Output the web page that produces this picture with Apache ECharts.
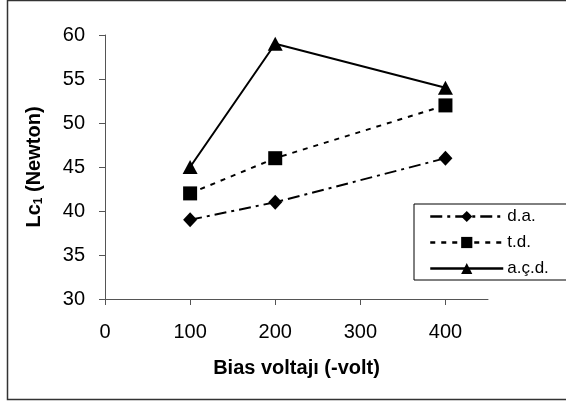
<!DOCTYPE html>
<html>
<head>
<meta charset="utf-8">
<script src="https://cdn.jsdelivr.net/npm/echarts@6/dist/echarts.min.js"></script>
<style>
html,body{margin:0;padding:0;background:#fff;}
#c{width:566px;height:402px;}
</style>
</head>
<body>
<div id="c"></div>
<script>
const xValues = [100, 200, 400];
const seriesNames = ['d.a.', 't.d.', 'a.ç.d.'];
const daValues = [39, 41, 46];
const tdValues = [42, 46, 52];
const acdValues = [45, 59, 54];
const xTicks = [0, 100, 200, 300, 400];
const yTicks = [30, 35, 40, 45, 50, 55, 60];

const FONT = '"Liberation Sans", Arial, sans-serif';
const pairs = v => xValues.map((x, i) => [x, v[i]]);

const chart = echarts.init(document.getElementById('c'), null, {renderer: 'canvas'});
chart.setOption({
  animation: false,
  backgroundColor: '#fff',
  textStyle: {fontFamily: FONT},
  graphic: [{
    type: 'rect', z: -1, silent: true,
    shape: {x: 7.5, y: 0.5, width: 600, height: 399},
    style: {fill: 'none', stroke: '#333', lineWidth: 1.5}
  }],
  grid: {left: 105, right: 78, top: 35, bottom: 103, containLabel: false},
  xAxis: {
    type: 'value', min: 0, max: 450, interval: 100,
    name: 'Bias voltajı (-volt)', nameLocation: 'middle', nameGap: 59,
    nameTextStyle: {fontFamily: FONT, fontSize: 20, fontWeight: 'bold', color: '#000'},
    axisLine: {show: true, lineStyle: {color: '#555', width: 1}},
    axisTick: {show: true, length: 6, inside: false, lineStyle: {color: '#555'}, customValues: xTicks},
    axisLabel: {fontFamily: FONT, fontSize: 20, color: '#000', margin: 23, customValues: xTicks},
    splitLine: {show: false}
  },
  yAxis: {
    type: 'value', min: 30, max: 60, interval: 5,
    name: '{a|Lc}{s|1}{a| (Newton)}', nameLocation: 'middle', nameGap: 60, nameRotate: 90,
    nameTextStyle: {
      fontFamily: FONT, fontSize: 20, fontWeight: 'bold', color: '#000',
      rich: {
        a: {fontFamily: FONT, fontSize: 20, fontWeight: 'bold', color: '#000'},
        s: {fontFamily: FONT, fontSize: 12, fontWeight: 'bold', color: '#000', padding: [10, 0, 0, 0]}
      }
    },
    axisLine: {show: true, lineStyle: {color: '#555', width: 1}},
    axisTick: {show: true, length: 6, inside: false, lineStyle: {color: '#555'}, customValues: yTicks},
    axisLabel: {fontFamily: FONT, fontSize: 20, color: '#000', margin: 20, customValues: yTicks},
    splitLine: {show: false}
  },
  legend: {
    orient: 'vertical', left: 414, top: 204,
    backgroundColor: '#fff', borderColor: '#000', borderWidth: 1,
    padding: [4, 22, 3, 15], itemGap: 9, itemWidth: 73, itemHeight: 14,
    lineStyle: {width: 2.5},
    textStyle: {fontFamily: FONT, fontSize: 17, color: '#000', padding: [0, 0, 0, -1]},
    data: seriesNames
  },
  series: [
    {
      name: seriesNames[0], type: 'line', data: pairs(daValues),
      symbol: 'diamond', symbolSize: [14, 15],
      itemStyle: {color: '#000'},
      lineStyle: {color: '#000', width: 2, type: [12, 5, 3, 5]}
    },
    {
      name: seriesNames[1], type: 'line', data: pairs(tdValues),
      symbol: 'rect', symbolSize: 14,
      itemStyle: {color: '#000'},
      lineStyle: {color: '#000', width: 2, type: [5, 6]}
    },
    {
      name: seriesNames[2], type: 'line', data: pairs(acdValues),
      symbol: 'triangle', symbolSize: [15, 14],
      itemStyle: {color: '#000'},
      lineStyle: {color: '#000', width: 2, type: 'solid'}
    }
  ]
});
</script>
</body>
</html>
